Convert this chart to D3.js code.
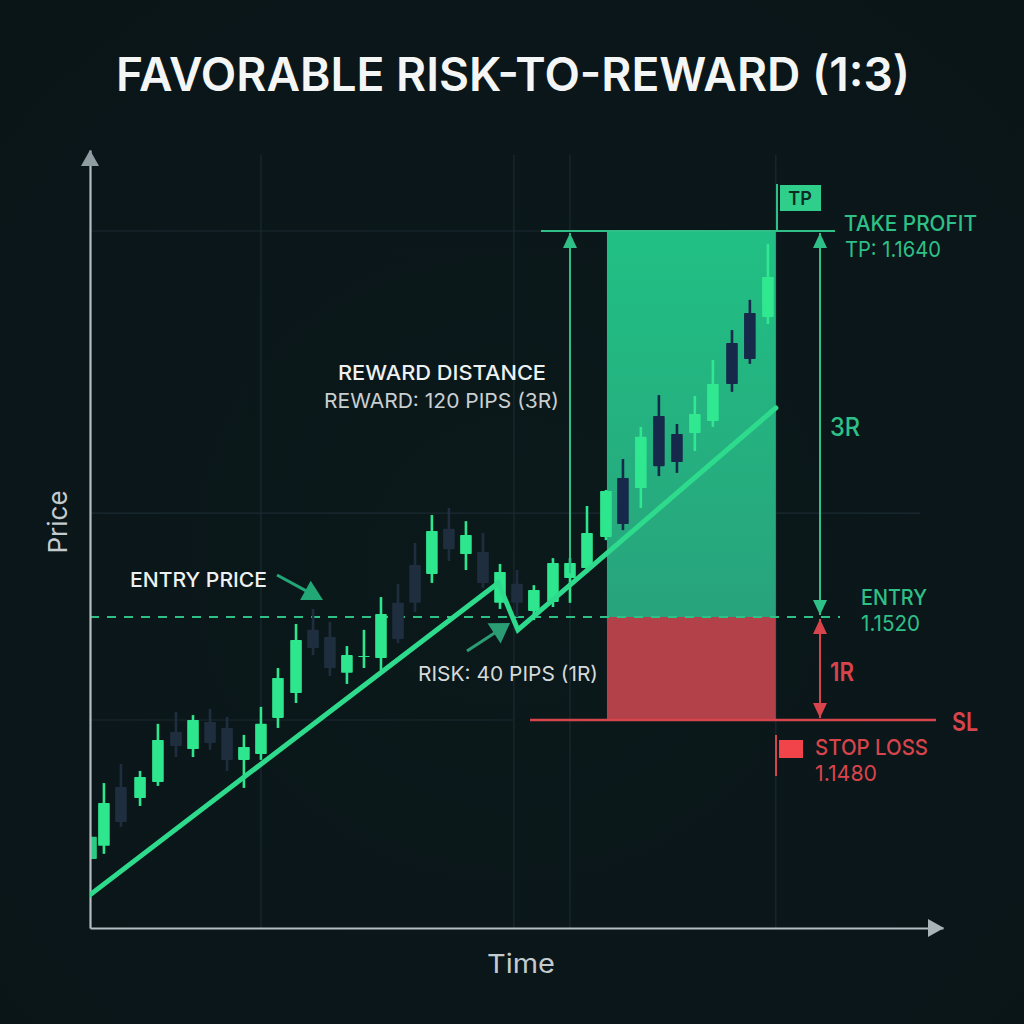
<!DOCTYPE html>
<html><head><meta charset="utf-8">
<script src="https://cdn.jsdelivr.net/npm/d3@7/dist/d3.min.js"></script>
<style>html,body{margin:0;padding:0;background:#0a1518}svg{display:block}text{font-family:Inter,"Noto Sans",sans-serif}</style>
</head><body><div id="chart"></div>
<script>
// ---- data ----
const candleTime = [0.06,0.81,1.80,2.91,3.95,5.00,5.99,6.98,7.97,8.95,9.94,10.93,11.98,12.97,13.95,14.94,15.93,16.92,17.91,18.90,19.88,20.87,21.86,22.85,23.84,24.83,25.81,26.92,27.91,28.90,30.00,30.99,32.03,33.08,34.13,35.17,36.22,37.33,38.37,39.42];
const candleHigh = [1.14346,1.14555,1.14629,1.14602,1.14785,1.14831,1.14819,1.14843,1.14812,1.14742,1.14851,1.15002,1.15173,1.15225,1.15181,1.15087,1.15150,1.15262,1.15303,1.15430,1.15517,1.15539,1.15498,1.15461,1.15365,1.15346,1.15299,1.15383,1.15383,1.15545,1.15595,1.15691,1.15791,1.15890,1.15800,1.15887,1.15999,1.16092,1.16186,1.16360];
const candleLow  = [1.14260,1.14280,1.14385,1.14466,1.14544,1.14656,1.14656,1.14684,1.14602,1.14536,1.14645,1.14769,1.14866,1.15052,1.14971,1.14940,1.15002,1.14994,1.15099,1.15216,1.15306,1.15374,1.15346,1.15290,1.15225,1.15200,1.15188,1.15231,1.15244,1.15337,1.15439,1.15470,1.15539,1.15638,1.15648,1.15716,1.15791,1.15900,1.15987,1.16111];
const candleOpen = [1.14260,1.14311,1.14540,1.14497,1.14559,1.14753,1.14687,1.14792,1.14769,1.14645,1.14668,1.14808,1.14905,1.15150,1.15122,1.14983,1.15045,1.15041,1.15244,1.15362,1.15334,1.15474,1.15396,1.15402,1.15244,1.15303,1.15219,1.15247,1.15321,1.15352,1.15449,1.15632,1.15601,1.15825,1.15769,1.15772,1.15809,1.16052,1.16145,1.16133];
const candleClose= [1.14346,1.14478,1.14404,1.14579,1.14722,1.14699,1.14800,1.14711,1.14645,1.14695,1.14785,1.14963,1.15111,1.15080,1.15002,1.15052,1.15049,1.15209,1.15115,1.15244,1.15467,1.15411,1.15455,1.15306,1.15340,1.15244,1.15284,1.15368,1.15368,1.15461,1.15592,1.15489,1.15760,1.15669,1.15682,1.15831,1.15924,1.15924,1.16002,1.16257];
const trendTime  = [0,23.74,24.88,39.88];
const trendPrice = [1.14121,1.15306,1.15150,1.15850];
const takeProfit = 1.1640, entryPrice = 1.1520, stopLoss = 1.1480;
const gridPrices = [1.1640,1.15523,1.1480];
const gridTimes  = [9.94,24.65,27.91,39.88];
const zoneStart = 30.06, zoneEnd = 39.88;
const axisTimeMax = 49.6;
const priceStops = [1.13992,1.1520,1.1640,1.16652];
const titleText = "FAVORABLE RISK-TO-REWARD (1:3)";

// ---- scales ----
const W = 1024, H = 1024;
const x = d3.scaleLinear().domain([0,axisTimeMax]).range([90,943]);
const y = d3.scaleLinear().domain(priceStops).range([928,617,231,150]);

const GREEN="#2fc088", BRIGHT="#2ee68e", RED="#d8444c", GRID="#1b2a33";
const svg = d3.select("#chart").append("svg").attr("width",W).attr("height",H).attr("viewBox",[0,0,W,H]);
const defs = svg.append("defs");
const bg = defs.append("radialGradient").attr("id","bg").attr("cx","50%").attr("cy","55%").attr("r","70%");
bg.append("stop").attr("offset","0%").attr("stop-color","#0b191b");
bg.append("stop").attr("offset","100%").attr("stop-color","#0a1518");
const zg = defs.append("linearGradient").attr("id","zoneG").attr("x1",0).attr("x2",0).attr("y1",0).attr("y2",1);
zg.append("stop").attr("offset","0%").attr("stop-color","#21c084");
zg.append("stop").attr("offset","100%").attr("stop-color","#28a37c");
defs.append("clipPath").attr("id","plot").append("rect").attr("x",90).attr("y",140).attr("width",860).attr("height",790);
svg.append("rect").attr("width",W).attr("height",H).attr("fill","url(#bg)");

// grid
svg.append("g").selectAll("line").data(gridPrices).join("line")
  .attr("x1",x(0)).attr("x2",d=>d===stopLoss?x(24.6):(d===takeProfit?x(39.88):920))
  .attr("y1",y).attr("y2",y).attr("stroke",GRID).attr("stroke-width",1.2);
svg.append("g").selectAll("line").data(gridTimes).join("line")
  .attr("x1",x).attr("x2",x).attr("y1",155).attr("y2",y.range()[0]).attr("stroke",GRID).attr("stroke-width",1.2);

// zones
svg.append("rect").attr("x",x(zoneStart)).attr("width",x(zoneEnd)-x(zoneStart))
  .attr("y",y(takeProfit)).attr("height",y(entryPrice)-y(takeProfit)).attr("fill","url(#zoneG)");
svg.append("rect").attr("x",x(zoneStart)).attr("width",x(zoneEnd)-x(zoneStart))
  .attr("y",y(entryPrice)).attr("height",y(stopLoss)-y(entryPrice)).attr("fill","#b3414a");

// entry dashed
svg.append("line").attr("x1",x(0)).attr("x2",840).attr("y1",y(entryPrice)).attr("y2",y(entryPrice))
  .attr("stroke",GREEN).attr("stroke-width",2.2).attr("stroke-dasharray","9 8");

// candles
const candles = candleTime.map((t,i)=>({t,h:candleHigh[i],l:candleLow[i],o:candleOpen[i],c:candleClose[i],i}));
const fillOf = d => {
  const inZone = d.t>=zoneStart;
  if(d.c>=d.o) return d.i===0?"#2bc984":(inZone?"#2fe88f":BRIGHT);
  return inZone?"#16294a":"#1f2e3f";
};
const cg = svg.append("g").attr("clip-path","url(#plot)").selectAll("g").data(candles).join("g");
cg.append("line").attr("x1",d=>x(d.t)).attr("x2",d=>x(d.t)).attr("y1",d=>y(d.h)).attr("y2",d=>y(d.l))
  .attr("stroke",fillOf).attr("stroke-width",2.6);
cg.append("rect").attr("x",d=>x(d.t)-5.8).attr("width",11.6)
  .attr("y",d=>y(Math.max(d.o,d.c))).attr("height",d=>Math.abs(y(d.o)-y(d.c)))
  .attr("rx",0.8).attr("fill",fillOf);

// axes
svg.append("g").attr("transform",`translate(${x(0)},0)`).call(d3.axisLeft(y).tickValues([]).tickSizeOuter(0));
svg.append("g").attr("transform",`translate(0,${y.range()[0]})`).call(d3.axisBottom(x).tickValues([]).tickSizeOuter(0));
svg.selectAll(".domain").attr("stroke","#b4bec2").attr("stroke-width",2.2);
svg.append("path").attr("d","M90,150L81,166L99,166Z").attr("fill","#8f9ca1");
svg.append("path").attr("d","M944,928L928,919L928,937Z").attr("fill","#aab4b8");

// trend line
const trend = d3.line().x(d=>x(d[0])).y(d=>y(d[1]));
svg.append("g").attr("clip-path","url(#plot)").append("path").attr("d",trend(d3.zip(trendTime,trendPrice))).attr("fill","none")
  .attr("stroke","#2edb8d").attr("stroke-width",5).attr("stroke-linejoin","miter").attr("stroke-linecap","round");

// level lines
svg.append("line").attr("x1",541).attr("x2",835).attr("y1",y(takeProfit)).attr("y2",y(takeProfit)).attr("stroke",GREEN).attr("stroke-width",2.2);
svg.append("line").attr("x1",530).attr("x2",936).attr("y1",y(stopLoss)).attr("y2",y(stopLoss)).attr("stroke",RED).attr("stroke-width",2.4);

// arrows helper
function vArrow(px,p1,p2,color,heads){
  const y1=y(p1)+2, y2=y(p2)-2;
  svg.append("line").attr("x1",px).attr("x2",px).attr("y1",y1).attr("y2",y2).attr("stroke",color).attr("stroke-width",2);
  svg.append("path").attr("d",`M${px},${y1}l-7,15h14Z`).attr("fill",color);
  if(heads>1) svg.append("path").attr("d",`M${px},${y2}l-7,-15h14Z`).attr("fill",color);
}
vArrow(820,takeProfit,entryPrice,GREEN,2);
vArrow(820,entryPrice,stopLoss,RED,2);
vArrow(x(27.91),takeProfit,1.1533,GREEN,1);

function diag(x1,y1,x2,y2,color,len,half){
  const a=Math.atan2(y2-y1,x2-x1),c=Math.cos(a),s=Math.sin(a);
  svg.append("line").attr("x1",x1).attr("y1",y1).attr("x2",x2-c*len*.8).attr("y2",y2-s*len*.8).attr("stroke",color).attr("stroke-width",3);
  svg.append("path").attr("d",`M${x2},${y2}L${x2-c*len-s*half},${y2-s*len+c*half}L${x2-c*len+s*half},${y2-s*len-c*half}Z`).attr("fill",color);
}
diag(277,575,323,600,"#22a877",20,11);
diag(467,651,510,623,"#2a9d74",19,12);

// flags
svg.append("line").attr("x1",777).attr("x2",777).attr("y1",184).attr("y2",y(takeProfit)).attr("stroke",GREEN).attr("stroke-width",2);
svg.append("rect").attr("x",780).attr("y",185).attr("width",41).attr("height",26).attr("fill","#2fcf8b");
svg.append("line").attr("x1",776).attr("x2",776).attr("y1",735).attr("y2",776).attr("stroke",RED).attr("stroke-width",2);
svg.append("rect").attr("x",779).attr("y",740).attr("width",24).attr("height",18).attr("fill","#f0434a");

// text
function label(str,x0,base,size,weight,fill,width,anchor){
  const t=svg.append("text").attr("x",x0).attr("y",base).attr("font-size",size).attr("font-weight",weight).attr("fill",fill).attr("text-anchor",anchor||"start").text(str);
  if(width) t.attr("textLength",width).attr("lengthAdjust","spacingAndGlyphs");
  return t;
}
label(titleText,116,91,46,600,"#f4f6f6",794);
label("Time",487,973,26,400,"#c4cbce",68);
svg.append("text").attr("transform","translate(67,522) rotate(-90)").attr("text-anchor","middle").attr("font-size",26).attr("font-weight",400).attr("fill","#c4cbce").text("Price");
label("ENTRY PRICE",130,587,20,500,"#eef1f1",137);
label("REWARD DISTANCE",338,380,20,500,"#eef1f1",208);
label("REWARD: 120 PIPS (3R)",324,408,20,400,"#c9cfd1",235);
label("RISK: 40 PIPS (1R)",418,681,20,400,"#d5dadb",180);
label("TAKE PROFIT",844,231,22,500,GREEN,133);
label("TP: 1.1640",845,257,22,400,GREEN,96);
label("TP",800,205,18,600,"#0d2a25",null,"middle");
label("3R",830,436,25,500,GREEN,30);
label("ENTRY",861,605,22,500,GREEN,66);
label("1.1520",861,631,22,400,GREEN,59);
label("1R",830,681,25,600,RED,24);
label("SL",952,731,25,600,RED,26);
label("STOP LOSS",815,755,22,500,RED,113);
label("1.1480",815,781,22,400,RED,62);
</script></body></html>
